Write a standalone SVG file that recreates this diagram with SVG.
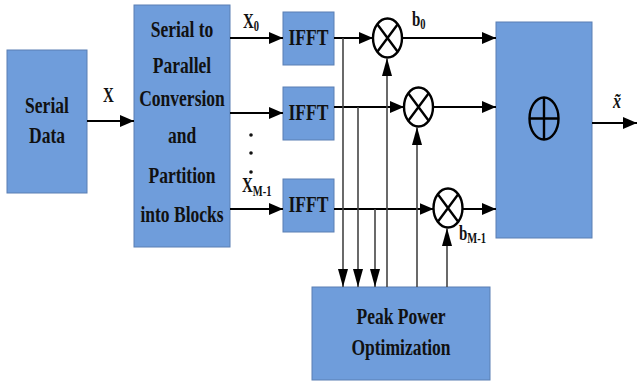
<svg xmlns="http://www.w3.org/2000/svg" width="637" height="381" viewBox="0 0 637 381">
<style>
.box{fill:#6f9ddb;stroke:#5a7fb3;stroke-width:1}
text{font-family:'Liberation Serif','Times New Roman',Times,serif;font-weight:700;fill:#111}
.t{font-size:24px;text-anchor:middle}
.lb{font-size:20px}
.ar{stroke:#000;stroke-width:2;fill:none}
.vl{stroke:#444;stroke-width:1.6;fill:none}
.op{fill:none;stroke:#000;stroke-width:2.4}
</style>
<defs>
<marker id="ah" markerWidth="14" markerHeight="12" refX="14" refY="6" orient="auto" markerUnits="userSpaceOnUse">
<path d="M0,0 L14,6 L0,12 Z" fill="#000"/>
</marker>
<marker id="ad" markerWidth="18" markerHeight="10" refX="18" refY="5" orient="auto" markerUnits="userSpaceOnUse">
<path d="M0,0 L18,5 L0,10 Z" fill="#000"/>
</marker>
</defs>
<rect width="637" height="381" fill="#fff"/>

<g id="serial-data">
<rect class="box" x="7" y="50" width="80" height="143"/>
<text class="t" transform="translate(47,113) scale(0.73,1)">Serial</text>
<text class="t" transform="translate(47,143) scale(0.73,1)">Data</text>
</g>

<g id="sp">
<rect class="box" x="134" y="5" width="96" height="242"/>
<text class="t" transform="translate(182,37) scale(0.73,1)">Serial to</text>
<text class="t" transform="translate(182,73) scale(0.73,1)">Parallel</text>
<text class="t" transform="translate(182,106) scale(0.73,1)">Conversion</text>
<text class="t" transform="translate(182,143) scale(0.73,1)">and</text>
<text class="t" transform="translate(182,183) scale(0.73,1)">Partition</text>
<text class="t" transform="translate(182,222) scale(0.73,1)">into Blocks</text>
</g>

<g id="ifft1">
<rect class="box" x="283" y="12" width="51" height="53"/>
<text class="t" transform="translate(308.5,45) scale(0.73,1)">IFFT</text>
</g>
<g id="ifft2">
<rect class="box" x="283" y="87" width="51" height="53"/>
<text class="t" transform="translate(308.5,120) scale(0.73,1)">IFFT</text>
</g>
<g id="ifft3">
<rect class="box" x="283" y="179" width="51" height="53"/>
<text class="t" transform="translate(308.5,212) scale(0.73,1)">IFFT</text>
</g>

<g id="mult1">
<ellipse class="op" cx="387.5" cy="38" rx="14.5" ry="19.5"/>
<path class="op" d="M377.3,24.2 L397.7,51.8 M397.7,24.2 L377.3,51.8"/>
</g>
<g id="mult2">
<ellipse class="op" cx="418.5" cy="107" rx="14.5" ry="19.5"/>
<path class="op" d="M408.3,93.2 L428.7,120.8 M428.7,93.2 L408.3,120.8"/>
</g>
<g id="mult3">
<ellipse class="op" cx="448" cy="208" rx="14.5" ry="19.5"/>
<path class="op" d="M437.8,194.2 L458.2,221.8 M458.2,194.2 L437.8,221.8"/>
</g>

<g id="sum">
<rect class="box" x="496" y="22" width="96" height="216"/>
<ellipse class="op" cx="544" cy="118.5" rx="14.5" ry="21"/>
<path class="op" d="M544,97.5 L544,139.5 M529.5,118.5 L558.5,118.5"/>
</g>

<g id="peak">
<rect class="box" x="312" y="287" width="178" height="93"/>
<text class="t" transform="translate(401,324) scale(0.73,1)">Peak Power</text>
<text class="t" transform="translate(401,355) scale(0.73,1)">Optimization</text>
</g>

<g id="connectors">
<path class="ar" d="M87,121 H134" marker-end="url(#ah)"/>
<path class="ar" d="M230,38 H283" marker-end="url(#ah)"/>
<path class="ar" d="M230,113 H283" marker-end="url(#ah)"/>
<path class="ar" d="M230,209 H283" marker-end="url(#ah)"/>
<path class="ar" d="M334,38 H373" marker-end="url(#ah)"/>
<path class="ar" d="M334,107 H404" marker-end="url(#ah)"/>
<path class="ar" d="M334,209 H433.5" marker-end="url(#ah)"/>
<path class="ar" d="M402,38 H496" marker-end="url(#ah)"/>
<path class="ar" d="M433,107 H496" marker-end="url(#ah)"/>
<path class="ar" d="M462.5,209 H496" marker-end="url(#ah)"/>
<path class="ar" d="M592,123 H637" marker-end="url(#ah)"/>
<path class="vl" d="M343,38 V287" marker-end="url(#ad)"/>
<path class="vl" d="M358,107 V287" marker-end="url(#ad)"/>
<path class="vl" d="M375,209 V287" marker-end="url(#ad)"/>
<path class="vl" d="M387,287 V58" marker-end="url(#ad)"/>
<path class="vl" d="M417,287 V127" marker-end="url(#ad)"/>
<path class="vl" d="M447,287 V228" marker-end="url(#ad)"/>
<circle cx="251" cy="135" r="1.8" fill="#111"/>
<circle cx="251" cy="153" r="1.8" fill="#111"/>
<circle cx="251" cy="172" r="1.8" fill="#111"/>
</g>

<g id="labels">
<text class="lb" transform="translate(103,102) scale(0.75,1)">X</text>
<text class="lb" transform="translate(243,28) scale(0.75,1)">X<tspan font-size="14" dy="3">0</tspan></text>
<text class="lb" transform="translate(242,192) scale(0.75,1)">X<tspan font-size="14" dy="4">M-1</tspan></text>
<text class="lb" transform="translate(412,26) scale(0.75,1)">b<tspan font-size="14" dy="3">0</tspan></text>
<text class="lb" transform="translate(459,240) scale(0.75,1)">b<tspan font-size="14" dy="3">M-1</tspan></text>
<text class="lb" font-style="italic" font-weight="400" font-size="24" text-anchor="middle" transform="translate(617,108) scale(0.8,1)">x̃</text>
</g>
</svg>
